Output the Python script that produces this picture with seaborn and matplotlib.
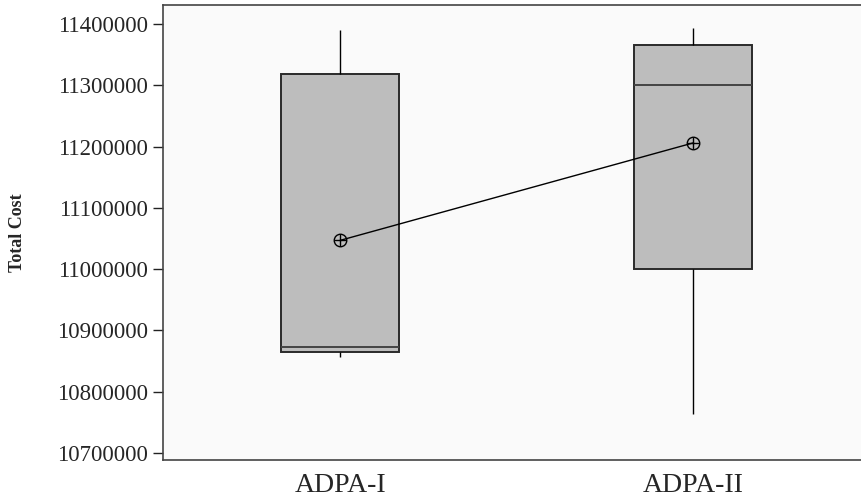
import numpy as np
import pandas as pd
import matplotlib
matplotlib.use("Agg")
import matplotlib.pyplot as plt
import seaborn as sns

# datos (minimo, Q1, mediana, Q3, maximo)
grupos = ["ADPA-I", "ADPA-II"]
resumen_adpa1 = [10857000, 10865000, 10873000, 11318000, 11390000]
resumen_adpa2 = [10764000, 11000000, 11300000, 11365000, 11393000]
medias = [11047000, 11206000]
ticks_y = [10700000, 10800000, 10900000, 11000000, 11100000, 11200000, 11300000, 11400000]

# tabla larga para seaborn
tabla = pd.DataFrame({
    "grupo": [grupos[0]] * len(resumen_adpa1) + [grupos[1]] * len(resumen_adpa2),
    "costo": resumen_adpa1 + resumen_adpa2,
})

sns.set_style("white")
plt.rcParams["font.family"] = ["Liberation Serif", "DejaVu Serif"]

fig = plt.figure(figsize=(8.62, 5.0), dpi=100)
ax = fig.add_axes([163 / 862, 0.08, 1 - 163 / 862, 0.91])
ax.set_facecolor("#fafafa")

sns.boxplot(data=tabla, x="grupo", y="costo", order=grupos, ax=ax,
            whis=(0, 100), width=0.334, showcaps=False, fliersize=0,
            boxprops=dict(facecolor="#bdbdbd", edgecolor="#2a2a2a", linewidth=1.4),
            whiskerprops=dict(color="black", linewidth=1.0),
            medianprops=dict(color="#444444", linewidth=1.4))

# linea de medias con simbolo circulo-cruz
sns.pointplot(x=grupos, y=medias, order=grupos, ax=ax, color="black",
              errorbar=None, markers="o", linestyles="-", linewidth=1.0,
              markersize=9, markerfacecolor="none", markeredgewidth=1.0)
sns.pointplot(x=grupos, y=medias, order=grupos, ax=ax, color="black",
              errorbar=None, markers="+", linestyles="none",
              markersize=9, markeredgewidth=1.0)

ax.set_xlim(-0.502, 1.478)
ax.set_ylim(10688600, 11431000)
ax.set_yticks(ticks_y)
ax.set_yticklabels([str(t) for t in ticks_y], fontsize=16.5)
ax.tick_params(axis="x", labelsize=20, length=7, width=1, pad=2, color="#222222")
ax.tick_params(axis="y", length=7, width=1, pad=4, color="#222222", left=True)
ax.set_xlabel("")
ax.set_ylabel("Total Cost", fontsize=13, fontweight="bold", labelpad=22)

for lado in ["top", "bottom", "left"]:
    ax.spines[lado].set_visible(True)
    ax.spines[lado].set_color("#444444")
    ax.spines[lado].set_linewidth(1.2)
ax.spines["right"].set_visible(False)

fig.savefig("out.png", dpi=100)
